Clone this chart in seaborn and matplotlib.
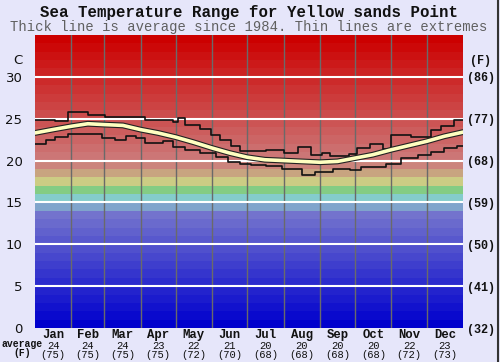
import numpy as np
import pandas as pd
import matplotlib
matplotlib.use("Agg")
import matplotlib.pyplot as plt
import matplotlib.patheffects as pe
import seaborn as sns

# ---------------- data ----------------
months = ["Jan", "Feb", "Mar", "Apr", "May", "Jun", "Jul", "Aug", "Sep", "Oct", "Nov", "Dec"]
month_avg_c = [24, 24, 24, 23, 22, 21, 20, 20, 20, 20, 22, 23]
month_avg_f = [75, 75, 75, 75, 72, 70, 68, 68, 68, 68, 72, 73]
month_days = [31, 28, 31, 30, 31, 30, 31, 31, 30, 31, 30, 31]

c_ticks = [0, 5, 10, 15, 20, 25, 30]
f_labels = ["(32)", "(41)", "(50)", "(59)", "(68)", "(77)", "(86)"]

max_day = [0, 9, 17, 28, 45, 60, 94, 118, 122, 128, 141, 150, 158, 167, 175, 184, 197,
           212, 224, 235, 245, 252, 268, 275, 286, 297, 304, 321, 338, 346, 357, 365]
max_c = [24.9, 24.9, 24.7, 25.8, 25.4, 25.2, 24.9, 24.6, 25.1, 24.2, 23.8, 23.0, 22.5, 21.8, 21.2, 21.2, 21.3,
         20.9, 21.6, 20.7, 20.9, 20.5, 20.8, 21.5, 22.0, 21.4, 23.0, 22.8, 23.7, 24.1, 24.8, 24.9]

min_day = [0, 9, 17, 28, 57, 68, 78, 86, 94, 109, 118, 128, 141, 154, 165, 175, 184, 197,
           211, 228, 239, 254, 269, 278, 299, 312, 327, 338, 349, 360, 365]
min_c = [22.0, 22.5, 22.8, 23.2, 22.7, 22.5, 22.9, 22.7, 22.1, 22.3, 21.6, 21.3, 20.9, 20.4, 19.8, 19.6, 19.5, 19.3,
         19.0, 18.3, 18.6, 19.0, 18.9, 19.2, 19.6, 20.3, 20.7, 21.0, 21.5, 21.8, 21.8]

avg_day = [0, 15, 31, 45, 59, 75, 90, 105, 120, 135, 151, 166, 181, 196, 212, 227, 243,
           258, 273, 288, 304, 319, 334, 349, 365]
avg_c = [23.3, 23.7, 24.1, 24.4, 24.3, 24.2, 23.7, 23.3, 22.8, 22.2, 21.5, 20.9, 20.4, 20.1, 20.0, 19.9, 19.8,
         19.9, 20.3, 20.7, 21.3, 21.8, 22.3, 22.9, 23.4]

# ---------------- style ----------------
BG = "#E6E6FA"
YMAX = 35


def band_color(t):
    if t >= 20:
        g = 118 * (YMAX - 1 - t) / (YMAX - 1 - 20)
        return (204 / 255, g / 255, g / 255)
    fixed = {19: (204, 132, 124), 18: (200, 164, 128), 17: (204, 204, 132),
             16: (132, 204, 132), 15: (132, 204, 204), 14: (128, 164, 204)}
    if t in fixed:
        r, g, b = fixed[t]
        return (r / 255, g / 255, b / 255)
    v = 115 * t / 13
    return (v / 255, v / 255, 205 / 255)


sns.set_theme(style="white")
plt.rcParams["font.family"] = ["DejaVu Sans"]

fig = plt.figure(figsize=(5.0, 3.62), dpi=100, facecolor=BG)
ax = fig.add_axes([0.07, 0.0939, 0.856, 0.8094])

for t in range(YMAX):
    ax.axhspan(t, t + 1, color=band_color(t), lw=0, zorder=0)

bounds = np.cumsum([0] + month_days)
for b in bounds[1:-1]:
    ax.axvline(b, color="#6a6a6a", lw=1.0, zorder=1)
for t in c_ticks[1:]:
    ax.axhline(t, color="white", lw=1.5, zorder=1)

df_max = pd.DataFrame({"day": max_day, "c": max_c})
df_min = pd.DataFrame({"day": min_day, "c": min_c})
df_avg = pd.DataFrame({"day": avg_day, "c": avg_c})

sns.lineplot(data=df_max, x="day", y="c", ax=ax, color="#111111", lw=1.2,
             drawstyle="steps-post", estimator=None, zorder=3)
sns.lineplot(data=df_min, x="day", y="c", ax=ax, color="#111111", lw=1.2,
             drawstyle="steps-post", estimator=None, zorder=3)
sns.lineplot(data=df_avg, x="day", y="c", ax=ax, color="#FFFFC0", lw=2.6, estimator=None, zorder=4,
             path_effects=[pe.Stroke(linewidth=4.2, foreground="#222222"), pe.Normal()])

ax.set_xlim(0, 365)
ax.set_ylim(0, YMAX)
ax.set_xlabel("")
ax.set_ylabel("")
for s in ax.spines.values():
    s.set_visible(False)

ax.set_yticks(c_ticks)
ax.set_yticklabels([str(t) for t in c_ticks], fontsize=9.5, color="#111111")
ax.tick_params(axis="y", length=0, pad=9)
ax.set_xticks([])

ax2 = ax.twinx()
ax2.set_ylim(0, YMAX)
ax2.set_yticks(c_ticks)
ax2.set_yticklabels(f_labels, fontsize=8.5, family="Liberation Mono", fontweight="bold", color="#111111")
ax2.tick_params(axis="y", length=0, pad=3)
for s in ax2.spines.values():
    s.set_visible(False)

fig.text(22 / 500, 1 - 61 / 362, "C", ha="right", va="center", fontsize=9.5, color="#111111")
fig.text(481 / 500, 1 - 61 / 362, "(F)", ha="center", va="center", fontsize=8.5, family="Liberation Mono",
         fontweight="bold", color="#111111")

mids = (bounds[:-1] + bounds[1:]) / 2
for m, name, c, f in zip(mids, months, month_avg_c, month_avg_f):
    ax.text(m, -0.005, name, ha="center", va="top", fontsize=8.8, family="Liberation Mono",
            fontweight="bold", color="#111111", transform=ax.get_xaxis_transform())
    ax.text(m, -0.045, str(c), ha="center", va="top", fontsize=7.6, family="Liberation Mono",
            color="#111111", transform=ax.get_xaxis_transform())
    ax.text(m, -0.076, f"({f})", ha="center", va="top", fontsize=7.6, family="Liberation Mono",
            color="#111111", transform=ax.get_xaxis_transform())

fig.text(0.044, 1 - 344 / 362, "average", ha="center", va="center", fontsize=7, family="Liberation Mono",
         fontweight="bold", color="#111111")
fig.text(0.044, 1 - 353 / 362, "(F)", ha="center", va="center", fontsize=7, family="Liberation Mono",
         fontweight="bold", color="#111111")

fig.text(0.497, 1 - 12 / 362, "Sea Temperature Range for Yellow sands Point", ha="center", va="center",
         fontsize=11.3, family="Liberation Mono", fontweight="bold", color="#111111")
fig.text(0.497, 1 - 27 / 362, "Thick line is average since 1984. Thin lines are extremes", ha="center",
         va="center", fontsize=10, family="Liberation Mono", color="#606060")

fig.add_artist(plt.Line2D([0.996, 0.996], [0, 1], color="#333333", lw=1.5, transform=fig.transFigure))

fig.savefig("out.png", dpi=100, facecolor=BG)
